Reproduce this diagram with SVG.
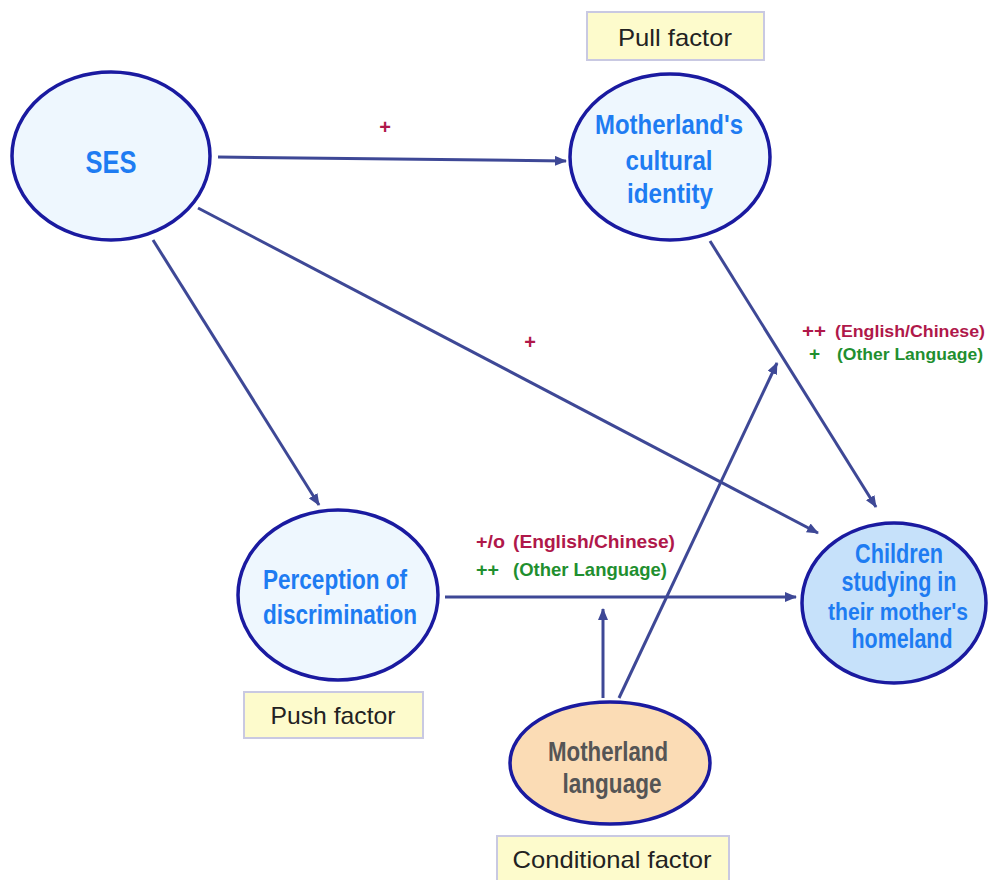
<svg xmlns="http://www.w3.org/2000/svg" width="990" height="880" viewBox="0 0 990 880">
<defs>
<marker id="ah" markerWidth="12" markerHeight="10" refX="11" refY="5" orient="auto" markerUnits="userSpaceOnUse">
<path d="M0,0 L12,5 L0,10 Z" fill="#3e4896"/>
</marker>
<style>
.node{stroke:#1a1aa0;stroke-width:3.5}
.light{fill:#eef7fe}
.blue{fill:#c6e1fa}
.orange{fill:#fbdcb5}
.nt{font-family:"Liberation Sans",Arial,sans-serif;font-weight:bold;font-size:27px;fill:#1e7cf2;text-anchor:middle}
.gt{font-family:"Liberation Sans",Arial,sans-serif;font-weight:bold;font-size:27px;fill:#555555;text-anchor:middle}
.box{fill:#fdfbcc;stroke:#c9c9e2;stroke-width:2}
.bt{font-family:"Liberation Sans",Arial,sans-serif;font-size:24px;fill:#222;text-anchor:middle}
.edge{stroke:#3e4896;stroke-width:3;fill:none;marker-end:url(#ah)}
.red{font-family:"Liberation Sans",Arial,sans-serif;font-weight:bold;font-size:19px;fill:#b0184a}
.green{font-family:"Liberation Sans",Arial,sans-serif;font-weight:bold;font-size:19px;fill:#1f8f2f}
.plus{font-family:"Liberation Sans",Arial,sans-serif;font-weight:bold;font-size:20px;fill:#b0184a;text-anchor:middle}
</style>
</defs>
<rect width="990" height="880" fill="#ffffff"/>
<g id="connectors">
<line class="edge" x1="218" y1="157" x2="566" y2="161"/>
<line class="edge" x1="153" y1="240" x2="319" y2="505"/>
<line class="edge" x1="198" y1="208" x2="818" y2="533"/>
<line class="edge" x1="710" y1="241" x2="876" y2="507"/>
<line class="edge" x1="445" y1="597" x2="796" y2="597"/>
<line class="edge" x1="603" y1="698" x2="603" y2="609"/>
<line class="edge" x1="619" y1="698" x2="777" y2="363"/>
</g>
<g id="edge-labels">
<text class="plus" x="385" y="134">+</text>
<text class="plus" x="530" y="349">+</text>
<text class="red" x="802" y="337" textLength="24" lengthAdjust="spacingAndGlyphs">++</text>
<text class="red" x="835" y="337" style="font-size:16px" textLength="150" lengthAdjust="spacingAndGlyphs">(English/Chinese)</text>
<text class="green" x="809" y="360">+</text>
<text class="green" x="837" y="360" style="font-size:16px" textLength="146" lengthAdjust="spacingAndGlyphs">(Other Language)</text>
<text class="red" x="476" y="548" textLength="29" lengthAdjust="spacingAndGlyphs">+/o</text>
<text class="red" x="513" y="548" textLength="162" lengthAdjust="spacingAndGlyphs">(English/Chinese)</text>
<text class="green" x="476" y="576" textLength="23" lengthAdjust="spacingAndGlyphs">++</text>
<text class="green" x="513" y="576" textLength="154" lengthAdjust="spacingAndGlyphs">(Other Language)</text>
</g>
<g id="ses">
<ellipse class="node light" cx="111" cy="156" rx="99" ry="84"/>
<text class="nt" x="111" y="173" style="font-size:31px" textLength="51" lengthAdjust="spacingAndGlyphs">SES</text>
</g>
<g id="identity">
<ellipse class="node light" cx="670" cy="157" rx="100" ry="83"/>
<text class="nt" x="669" y="134" textLength="148" lengthAdjust="spacingAndGlyphs">Motherland's</text>
<text class="nt" x="669" y="170" textLength="87" lengthAdjust="spacingAndGlyphs">cultural</text>
<text class="nt" x="670" y="203" textLength="86" lengthAdjust="spacingAndGlyphs">identity</text>
</g>
<g id="pull-label">
<rect class="box" x="587" y="12" width="177" height="48"/>
<text class="bt" x="675" y="46" textLength="114" lengthAdjust="spacingAndGlyphs">Pull factor</text>
</g>
<g id="perception">
<ellipse class="node light" cx="338" cy="595" rx="100" ry="85"/>
<text class="nt" x="335" y="589" textLength="144" lengthAdjust="spacingAndGlyphs">Perception of</text>
<text class="nt" x="340" y="624" textLength="154" lengthAdjust="spacingAndGlyphs">discrimination</text>
</g>
<g id="push-label">
<rect class="box" x="244" y="692" width="179" height="46"/>
<text class="bt" x="333" y="724" textLength="125" lengthAdjust="spacingAndGlyphs">Push factor</text>
</g>
<g id="children">
<ellipse class="node blue" cx="894" cy="603" rx="92" ry="80"/>
<text class="nt" x="899" y="563" textLength="88" lengthAdjust="spacingAndGlyphs">Children</text>
<text class="nt" x="899" y="591" textLength="115" lengthAdjust="spacingAndGlyphs">studying in</text>
<text class="nt" x="898" y="620" style="font-size:24px" textLength="140" lengthAdjust="spacingAndGlyphs">their mother's</text>
<text class="nt" x="902" y="648" textLength="101" lengthAdjust="spacingAndGlyphs">homeland</text>
</g>
<g id="language">
<ellipse class="node orange" cx="610" cy="763" rx="100" ry="61"/>
<text class="gt" x="608" y="761" textLength="120" lengthAdjust="spacingAndGlyphs">Motherland</text>
<text class="gt" x="612" y="793" textLength="99" lengthAdjust="spacingAndGlyphs">language</text>
</g>
<g id="conditional-label">
<rect class="box" x="497" y="836" width="232" height="50"/>
<text class="bt" x="612" y="868" textLength="199" lengthAdjust="spacingAndGlyphs">Conditional factor</text>
</g>
</svg>
